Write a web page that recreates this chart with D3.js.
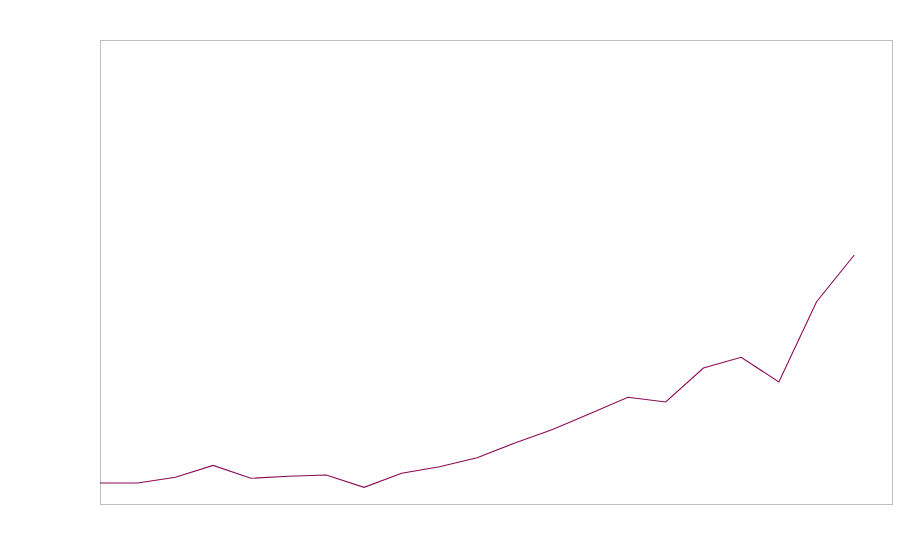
<!DOCTYPE html>
<html><head><meta charset="utf-8">
<script src="https://cdn.jsdelivr.net/npm/d3@7"></script>
<style>body{margin:0;background:#fff}svg{display:block}</style>
</head><body>
<script>
const periods = d3.range(0, 21);
const values = [4.53, 4.53, 5.75, 8.32, 5.54, 5.99, 6.25, 3.60, 6.64, 8.04, 9.98, 13.15, 16.06, 19.5, 23.0, 21.98, 29.31, 31.62, 26.29, 43.6, 53.66];

const W = 900, H = 560;
const m = {left: 100, right: 7, top: 40, bottom: 55};
const svg = d3.select("body").append("svg").attr("width", W).attr("height", H);

const x = d3.scaleLinear().domain([0, 21]).range([m.left, W - m.right - 1]);
const y = d3.scaleLinear().domain([0, 100]).range([H - m.bottom - 1, m.top]);

svg.append("rect")
  .attr("x", m.left + 0.5).attr("y", m.top + 0.5)
  .attr("width", W - m.left - m.right - 1).attr("height", H - m.top - m.bottom - 1)
  .attr("fill", "none").attr("stroke", "#bdbdbd").attr("stroke-width", 1);

const line = d3.line().x((d, i) => x(periods[i])).y(d => y(d));
svg.append("path").datum(values)
  .attr("d", line)
  .attr("fill", "none")
  .attr("stroke", "#8a0a55")
  .attr("stroke-width", 1.1);
</script>
</body></html>
